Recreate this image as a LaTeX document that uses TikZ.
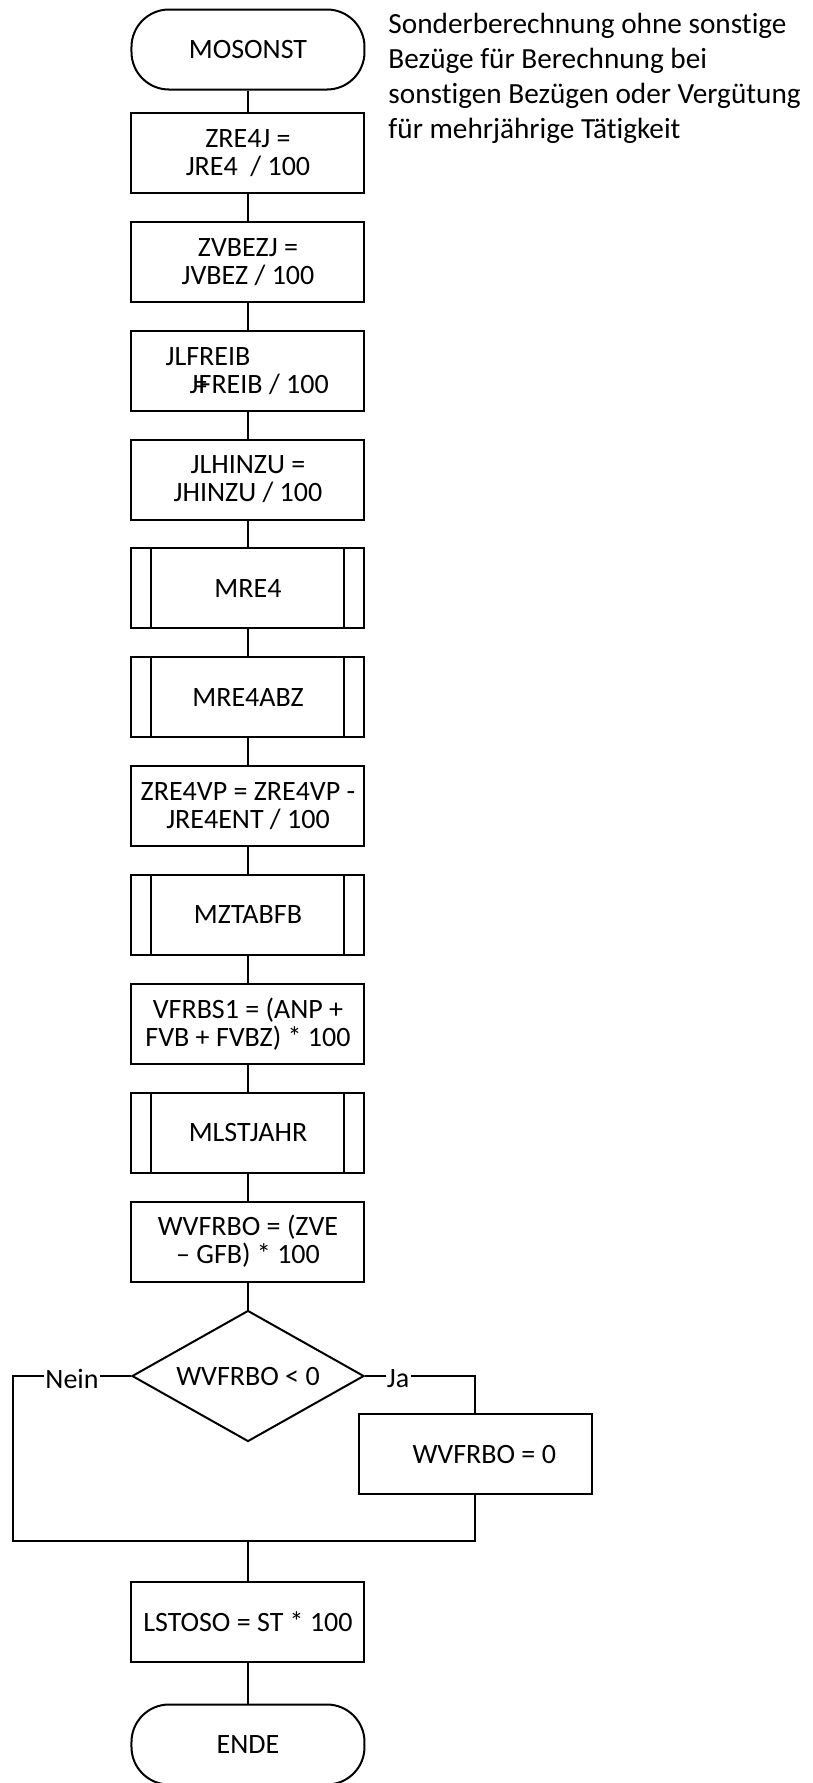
\documentclass[tikz,border=0pt]{standalone}
\usepackage{fontspec}
\setmainfont[Ligatures=NoCommon]{Carlito}
\usepackage{tikz}
\usetikzlibrary{shapes.geometric,positioning}
\tikzstyle{proc}=[rectangle,draw=black,line width=0.8pt,minimum width=93.2pt,minimum height=32pt,align=center,inner xsep=0pt,inner ysep=2pt]
\tikzstyle{terminal}=[proc,rounded corners=15pt]
\tikzstyle{subproc}=[proc,path picture={\draw[line width=0.8pt] ([xshift=8pt]path picture bounding box.north west) -- ([xshift=8pt]path picture bounding box.south west) ([xshift=-8pt]path picture bounding box.north east) -- ([xshift=-8pt]path picture bounding box.south east);}]
\tikzstyle{decision}=[diamond,draw=black,line width=0.8pt,aspect=1.77,minimum width=92.8pt,minimum height=52.4pt,inner sep=0pt]
\tikzstyle{lbl}=[fill=white,inner sep=0.5pt,yshift=-1pt]

\begin{document}
\begin{tikzpicture}[line width=0.8pt, font=\fontsize{11.2}{11.2}\selectfont, node distance=43.54pt]
      \useasboundingbox (-99.2pt,19.8pt) rectangle (225.6pt,-693.4pt);
      \node [terminal] (start) {MOSONST};
      \node [proc] (zre) [below of=start, node distance=41.4pt] {ZRE4J =\\JRE4~~/ 100};
      \node [proc] (zvbez) [below of=zre] {ZVBEZJ =\\JVBEZ / 100};
      \node [proc] (jlfreib) [below of=zvbez] {JLFREIB\hspace*{32pt}\\\hspace*{9pt}J\rlap{\kern-2pt=}FREIB / 100};
      \node [proc] (jlhinzu) [below of=jlfreib] {JLHINZU =\\JHINZU / 100};
      \node [subproc] (mre) [below of=jlhinzu] {MRE4};
      \node [subproc] (mreabz) [below of=mre] {MRE4ABZ};
      \node [proc] (zrevp) [below of=mreabz] {ZRE4VP = ZRE4VP -\\JRE4ENT / 100};
      \node [subproc] (mztab) [below of=zrevp] {MZTABFB};
      \node [proc] (vfrbs) [below of=mztab] {VFRBS1 = (ANP +\\FVB + FVBZ) * 100};
      \node [subproc] (mlst) [below of=vfrbs] {MLSTJAHR};
      \node [proc] (wvfrbo) [below of=mlst] {WVFRBO = (ZVE\\– GFB) * 100};
      \node [decision] (dec) [below of=wvfrbo, node distance=53.8pt] {WVFRBO < 0};
      \node [proc] (null) [right of=dec, node distance=91pt, yshift=-31.2pt] {\hspace*{7pt}WVFRBO = 0};
      \node [proc] (lstoso) [below of=dec, node distance=98.2pt] {LSTOSO = ST * 100};
      \node [terminal] (ende) [below of=lstoso, node distance=49.2pt] {ENDE};

      % Kommentar
      \node [anchor=north west, align=left, inner sep=0pt, font=\fontsize{11.7}{14}\selectfont] (note) at ([xshift=8.8pt,yshift=-1.6pt]start.north east)
        {Sonderberechnung ohne sonstige\\Bezüge für Berechnung bei\\sonstigen Bezügen oder Vergütung\\für mehrjährige Tätigkeit};

      \draw (start) -- (zre);
      \draw (zre) -- (zvbez);
      \draw (zvbez) -- (jlfreib);
      \draw (jlfreib) -- (jlhinzu);
      \draw (jlhinzu) -- (mre);
      \draw (mre) -- (mreabz);
      \draw (mreabz) -- (zrevp);
      \draw (zrevp) -- (mztab);
      \draw (mztab) -- (vfrbs);
      \draw (vfrbs) -- (mlst);
      \draw (mlst) -- (wvfrbo);
      \draw (wvfrbo) -- (dec);

      % Verzweigung
      \coordinate (merge) at ([yshift=-65.8pt]dec.center);
      \coordinate (nein) at ([xshift=-94pt]dec.center);
      \draw (dec.east) -- node[lbl, pos=0.3]{Ja} (dec.east -| null) -- (null.north);
      \draw (dec.west) -- node[lbl]{Nein} (nein) |- (merge);
      \draw (null.south) |- (merge);
      \draw (merge) -- (lstoso);
      \draw (lstoso) -- (ende);
    \end{tikzpicture}
\end{document}
